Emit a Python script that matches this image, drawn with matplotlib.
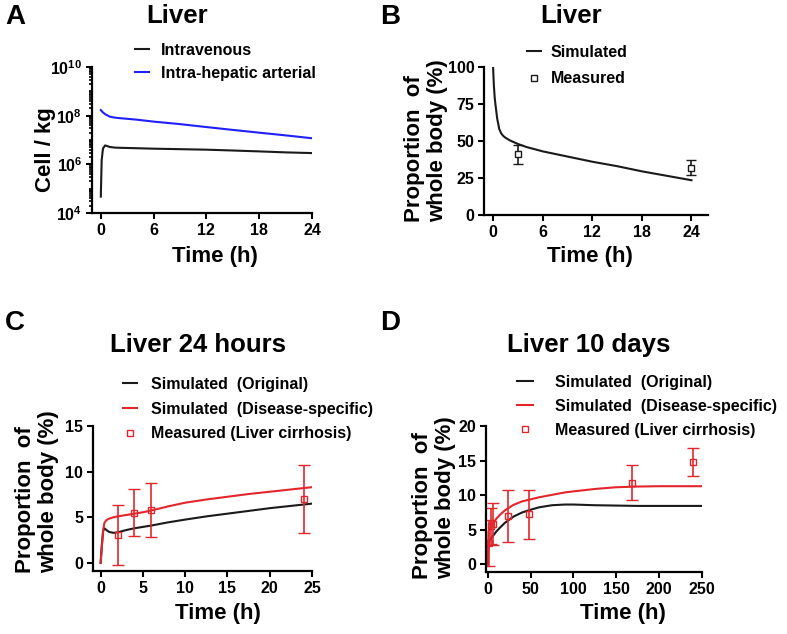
import matplotlib
matplotlib.use("Agg")
import matplotlib.pyplot as plt
from matplotlib.lines import Line2D
from matplotlib.ticker import LogLocator, FixedLocator, NullFormatter

plt.rcParams['font.family'] = ['Liberation Sans', 'DejaVu Sans']
plt.rcParams['font.weight'] = 'bold'
plt.rcParams['mathtext.fontset'] = 'custom'
plt.rcParams['mathtext.bf'] = 'Liberation Sans:bold'
plt.rcParams['mathtext.rm'] = 'Liberation Sans:bold'

RED = '#e3262c'
BLUE = '#2020ff'
BLACK = '#1a1a1a'

# panel A: cell / kg in liver
t_iv = [0, 0.1, 0.25, 0.5, 0.75, 1, 1.5, 2, 3, 4, 6, 9, 12, 15, 18, 21, 24]
iv = [4.7e4, 1.5e6, 4.5e6, 6.0e6, 5.6e6, 5.2e6, 4.9e6, 4.8e6, 4.7e6, 4.6e6,
      4.4e6, 4.2e6, 4.0e6, 3.7e6, 3.4e6, 3.1e6, 2.9e6]
t_ih = [0, 0.25, 0.5, 1, 1.5, 2, 4, 6, 9, 12, 15, 18, 21, 24]
ih = [1.7e8, 1.35e8, 1.15e8, 9.2e7, 8.4e7, 8.0e7, 6.9e7, 5.7e7, 4.5e7,
      3.4e7, 2.6e7, 2.0e7, 1.55e7, 1.18e7]

# panel B: proportion of whole body
t_b = [0, 0.05, 0.1, 0.2, 0.3, 0.5, 0.75, 1, 1.25, 1.5, 2, 3, 4, 6, 9, 12,
       15, 18, 21, 24]
sim_b = [100, 93, 87, 79, 74, 65, 58, 55, 53.3, 52.2, 50.5, 48, 46, 43, 39.5,
         36, 33, 29.5, 26.5, 23.5]
meas_t_b = [3, 24]
meas_b = [41, 32]
meas_err_b = [6.5, 5]

# panel C: liver 24 hours
t_c = [0, 0.15, 0.3, 0.45, 0.7, 1, 1.5, 2, 3, 4, 5, 6, 8, 10, 12.5, 15,
       17.5, 20, 22.5, 25]
orig_c = [0, 2.0, 3.5, 3.8, 3.6, 3.4, 3.3, 3.35, 3.6, 3.8, 3.95, 4.1, 4.45,
          4.75, 5.1, 5.4, 5.7, 6.0, 6.25, 6.5]
dis_c = [0, 1.8, 3.6, 4.4, 4.7, 4.85, 5.0, 5.1, 5.25, 5.4, 5.55, 5.75, 6.2,
         6.6, 6.95, 7.25, 7.55, 7.8, 8.05, 8.3]
meas_t_c = [2, 4, 6, 24]
meas_c = [3.1, 5.5, 5.8, 7.0]
meas_err_c = [3.3, 2.6, 3.0, 3.7]

# panel D: liver 10 days
t_d = [0, 1, 2, 4, 6, 10, 15, 20, 30, 40, 50, 60, 75, 90, 100, 125, 150,
       175, 200, 225, 250]
orig_d = [0, 3.4, 3.3, 3.8, 4.1, 4.75, 5.4, 6.0, 6.9, 7.5, 7.9, 8.25, 8.55,
          8.65, 8.65, 8.55, 8.5, 8.45, 8.45, 8.45, 8.45]
dis_d = [0, 4.85, 5.1, 5.4, 5.75, 6.6, 7.25, 7.8, 8.6, 9.1, 9.4, 9.7, 10.05,
         10.4, 10.55, 10.9, 11.15, 11.25, 11.3, 11.3, 11.3]
meas_t_d = [2, 4, 6, 24, 48, 168, 240]
meas_d = [3.1, 5.5, 5.8, 7.0, 7.25, 11.8, 14.8]
meas_err_d = [3.3, 2.6, 3.0, 3.7, 3.55, 2.5, 2.0]

YLAB = 'Proportion  of\nwhole body (%)'

W, H = 787, 634
fig = plt.figure(figsize=(W / 100, H / 100), dpi=100)


def axes_px(left, top, right, bottom):
    return fig.add_axes([left / W, 1 - bottom / H, (right - left) / W, (bottom - top) / H])


def style(ax):
    for s in ['top', 'right']:
        ax.spines[s].set_visible(False)
    for s in ['left', 'bottom']:
        ax.spines[s].set_linewidth(1.6)
    ax.tick_params(direction='out', length=4, width=1.5, labelsize=11.5, pad=3)
    ax.tick_params(which='minor', direction='out', length=2.5, width=1.2)
    for lab in ax.get_xticklabels() + ax.get_yticklabels():
        lab.set_fontweight('bold')


def px_text(x, y, s, **kw):
    fig.text(x / W, 1 - y / H, s, ha='center', va='center', **kw)


def legend(ax, handles, labels, x, y, spacing, hl, hp):
    ax.legend(handles, labels, loc='upper left', bbox_to_anchor=(x / W, 1 - y / H),
              bbox_transform=fig.transFigure, frameon=False, borderpad=0,
              borderaxespad=0, labelspacing=spacing,
              handlelength=hl, handletextpad=hp,
              prop={'weight': 'bold', 'size': 11.5})


# ---- A ----
axA = axes_px(92, 67, 312, 213)
axA.plot(t_iv, iv, color=BLACK, lw=1.5)
axA.plot(t_ih, ih, color=BLUE, lw=1.5)
axA.set_yscale('log')
axA.set_ylim(1e4, 1e10)
axA.set_xlim(-1, 24)
axA.xaxis.set_major_locator(FixedLocator([0, 6, 12, 18, 24]))
axA.yaxis.set_major_locator(FixedLocator([1e4, 1e6, 1e8, 1e10]))
axA.set_yticklabels([r'$\mathbf{10^4}$', r'$\mathbf{10^6}$', r'$\mathbf{10^8}$', r'$\mathbf{10^{10}}$'])
axA.yaxis.set_minor_locator(LogLocator(base=10, subs=(1, 2, 3, 4, 5, 6, 7, 8, 9), numticks=20))
axA.yaxis.set_minor_formatter(NullFormatter())
style(axA)
legend(axA, [Line2D([], [], color=BLACK, lw=1.5), Line2D([], [], color=BLUE, lw=1.5)],
       ['Intravenous', 'Intra-hepatic arterial'], 135, 43, 0.49, 0.9, 0.75)
px_text(177, 16, 'Liver', fontsize=18.5, fontweight='bold')
px_text(45, 150, 'Cell / kg', fontsize=16, fontweight='bold', rotation=90)
px_text(215, 257, 'Time (h)', fontsize=16, fontweight='bold')
px_text(15, 17, 'A', fontsize=20, fontweight='bold')

# ---- B ----
axB = axes_px(484, 67, 708, 215)
axB.plot(t_b, sim_b, color=BLACK, lw=1.5)
axB.errorbar(meas_t_b, meas_b, yerr=meas_err_b, fmt='s', color=BLACK, mfc='white',
             mec=BLACK, ms=5, mew=1, capsize=3.5, elinewidth=1.2, capthick=1.2)
axB.set_xlim(-1.1, 26)
axB.set_ylim(0, 100)
axB.xaxis.set_major_locator(FixedLocator([0, 6, 12, 18, 24]))
axB.yaxis.set_major_locator(FixedLocator([0, 25, 50, 75, 100]))
style(axB)
legend(axB, [Line2D([], [], color=BLACK, lw=1.5),
             Line2D([], [], ls='none', marker='s', mfc='white', mec=BLACK, ms=5, mew=1)],
       ['Simulated', 'Measured'], 527, 45, 0.7, 0.9, 0.6)
px_text(571, 16, 'Liver', fontsize=18.5, fontweight='bold')
px_text(426, 141, YLAB, fontsize=16, fontweight='bold',
        rotation=90, linespacing=1.15, multialignment='left')
px_text(590, 257, 'Time (h)', fontsize=16, fontweight='bold')
px_text(390, 17, 'B', fontsize=20, fontweight='bold')

# ---- C ----
axC = axes_px(93, 426, 312, 571)
axC.plot(t_c, orig_c, color=BLACK, lw=1.5)
axC.plot(t_c, dis_c, color=RED, lw=1.5)
axC.errorbar(meas_t_c, meas_c, yerr=meas_err_c, fmt='s', color=RED, mfc='none',
             mec=RED, ms=5, mew=1, capsize=4, elinewidth=1.2, capthick=1.2)
axC.set_xlim(-0.9, 25)
axC.set_ylim(-0.88, 15)
axC.xaxis.set_major_locator(FixedLocator([0, 5, 10, 15, 20, 25]))
axC.yaxis.set_major_locator(FixedLocator([0, 5, 10, 15]))
style(axC)
legend(axC, [Line2D([], [], color=BLACK, lw=1.5), Line2D([], [], color=RED, lw=1.5),
             Line2D([], [], ls='none', marker='s', mfc='white', mec=RED, ms=5, mew=1)],
       ['Simulated  (Original)', 'Simulated  (Disease-specific)', 'Measured (Liver cirrhosis)'],
       123, 377, 0.61, 0.9, 0.85)
px_text(198, 345, 'Liver 24 hours', fontsize=18.5, fontweight='bold')
px_text(37, 492, YLAB, fontsize=16, fontweight='bold',
        rotation=90, linespacing=1.15, multialignment='left')
px_text(218, 614, 'Time (h)', fontsize=16, fontweight='bold')
px_text(15, 323, 'C', fontsize=20, fontweight='bold')

# ---- D ----
axD = axes_px(486, 426, 702, 572)
axD.plot(t_d, orig_d, color=BLACK, lw=1.5)
axD.plot(t_d, dis_d, color=RED, lw=1.5)
axD.errorbar(meas_t_d, meas_d, yerr=meas_err_d, fmt='s', color=RED, mfc='none',
             mec=RED, ms=5, mew=1, capsize=4, elinewidth=1.2, capthick=1.2)
axD.set_xlim(-2, 250)
axD.set_ylim(-1.1, 20)
axD.xaxis.set_major_locator(FixedLocator([0, 50, 100, 150, 200, 250]))
axD.yaxis.set_major_locator(FixedLocator([0, 5, 10, 15, 20]))
style(axD)
legend(axD, [Line2D([], [], color=BLACK, lw=1.5), Line2D([], [], color=RED, lw=1.5),
             Line2D([], [], ls='none', marker='s', mfc='white', mec=RED, ms=5, mew=1)],
       ['Simulated  (Original)', 'Simulated  (Disease-specific)', 'Measured (Liver cirrhosis)'],
       517, 375, 0.55, 1.0, 1.4)
px_text(589, 345, 'Liver 10 days', fontsize=18.5, fontweight='bold')
px_text(434, 498, YLAB, fontsize=16, fontweight='bold',
        rotation=90, linespacing=1.15, multialignment='left')
px_text(623, 614, 'Time (h)', fontsize=16, fontweight='bold')
px_text(390, 323, 'D', fontsize=20, fontweight='bold')

fig.savefig('out.png', dpi=100)
